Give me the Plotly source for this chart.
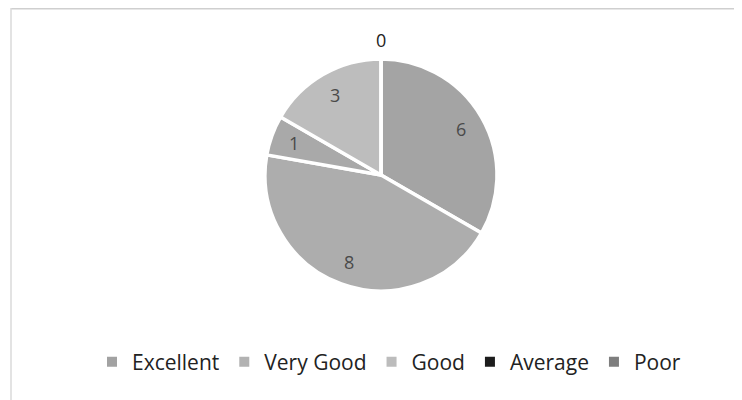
import math
import plotly.graph_objects as go

categories = ["Excellent", "Very Good", "Good", "Average", "Poor"]
values = [6, 8, 1, 3, 0]
slice_colors = ["#a4a4a4", "#adadad", "#a9a9a9", "#bdbdbd", "#8a8a8a"]
legend_colors = ["#a2a2a2", "#b2b2b2", "#bcbcbc", "#1c1c1c", "#7e7e7e"]

# page has an 8px body margin; work in figure coordinates
OFF = 8
W, H = 742 - OFF, 400 - OFF
cx, cy, r = 381 - OFF, 175 - OFF, 116

fig = go.Figure()
fig.add_trace(go.Pie(
    labels=categories, values=values, sort=False, direction="clockwise",
    rotation=0, showlegend=False,
    marker=dict(colors=slice_colors, line=dict(color="white", width=3.5)),
    textinfo="none",
    hoverinfo="label+value",
    domain=dict(x=[(cx - r) / W, (cx + r) / W], y=[(H - cy - r) / H, (H - cy + r) / H]),
))

# data labels, placed at each slice's mid-angle (Excel style)
total = sum(values)
cum = 0
for cat, v in zip(categories, values):
    mid = (cum + v / 2) / total * 2 * math.pi
    cum += v
    d = r * 0.8 if v > 0 else r + 19
    x = cx + d * math.sin(mid)
    y = cy - d * math.cos(mid)
    fig.add_annotation(x=x / W, y=1 - y / H, xref="paper", yref="paper",
                       xanchor="center", yanchor="middle",
                       text=str(v), showarrow=False,
                       font=dict(family="Open Sans, Liberation Sans", size=18,
                                 color="#4a4a4a" if v > 0 else "#222222"))

for cat, col in zip(categories, legend_colors):
    fig.add_trace(go.Scatter(x=[None], y=[None], mode="markers", name=cat,
                             marker=dict(symbol="square", size=10, color=col)))

fig.update_layout(
    width=W, height=H, margin=dict(l=0, r=0, t=0, b=0),
    paper_bgcolor="white", plot_bgcolor="white",
    xaxis=dict(visible=False), yaxis=dict(visible=False),
    legend=dict(orientation="h", x=(389 - OFF) / W, xanchor="center", y=1 - (362 - OFF) / H,
                yanchor="middle",
                font=dict(family="Open Sans, Liberation Sans", size=21, color="#222222"),
                itemwidth=30, tracegroupgap=0),
    shapes=[
        dict(type="line", xref="paper", yref="paper", x0=3 / W, x1=1, y0=1 - 0.75 / H, y1=1 - 0.75 / H,
             line=dict(color="#cfcfcf", width=1.5)),
        dict(type="line", xref="paper", yref="paper", x0=3 / W, x1=3 / W, y0=0, y1=1,
             line=dict(color="#dadada", width=1.5)),
    ],
)

fig.write_html("out.html")
